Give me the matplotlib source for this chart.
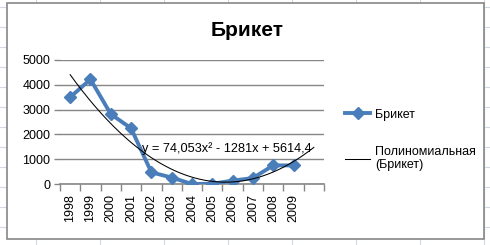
import matplotlib.pyplot as plt
import numpy as np
from matplotlib.lines import Line2D
from matplotlib.patches import Rectangle

# data
years = ['1998', '1999', '2000', '2001', '2002', '2003',
         '2004', '2005', '2006', '2007', '2008', '2009']
values = [3500, 4220, 2820, 2245, 470, 260, 0, 10, 135, 240, 750, 750]
# polynomial trendline y = a*x^2 + b*x + c (as shown on the chart)
trend_coef = [74.053, -1281, 5614.4]
trend_label = 'y = 74,053x² - 1281x + 5614,4'

plt.rcParams['font.family'] = ['Liberation Sans', 'DejaVu Sans']

W, H = 490, 245
fig = plt.figure(figsize=(W / 100, H / 100), dpi=100)
fig.patch.set_facecolor('white')

# spreadsheet grid behind the chart
grid_col = '#d0d7e5'
for gx in range(36, W, 64):
    fig.add_artist(Line2D([gx / W, gx / W], [0, 1], color=grid_col, lw=0.8, zorder=-3))
for gy in range(7, H, 20):
    fig.add_artist(Line2D([0, 1], [1 - gy / H, 1 - gy / H], color=grid_col, lw=0.8, zorder=-3))

# chart frame
x0, y0, x1, y1 = 6.5, 3.5, 484, 239
fig.add_artist(Rectangle((x0 / W, 1 - y1 / H), (x1 - x0) / W, (y1 - y0) / H,
                         transform=fig.transFigure, facecolor='white',
                         edgecolor='#868686', lw=1.2, zorder=-2))

left, right, top, bottom = 60, 324, 60, 184
ax = fig.add_axes([left / W, 1 - bottom / H, (right - left) / W, (bottom - top) / H])
ax.set_facecolor('none')

x = np.arange(1, len(years) + 1)
ax.plot(x, values, color='#4a7ebb', lw=2.8, marker='D', ms=6.5,
        label='Брикет', zorder=3)

xt = np.linspace(1, len(years) + 1, 200)
ax.plot(xt, np.polyval(trend_coef, xt), color='black', lw=0.75,
        label='Полиномиальная\n(Брикет)', zorder=4)

ax.set_xlim(0.5, len(years) + 1.5)
ax.set_ylim(0, 5000)
ax.set_yticks(range(0, 5001, 1000))
ax.yaxis.grid(True, color='#868686', lw=1.0)
ax.set_axisbelow(True)

ax.set_xticks(x)
ax.set_xticklabels(years, rotation=90, fontsize=9)
ax.set_xticks(np.arange(0.5, len(years) + 2, 1), minor=True)
ax.tick_params(axis='x', which='major', length=0, pad=7)
ax.tick_params(axis='x', which='minor', length=5, color='#868686', width=1)
ax.tick_params(axis='y', length=4, color='#868686', width=1, labelsize=9, pad=3)

for s in ['top', 'right', 'left']:
    ax.spines[s].set_visible(False)
ax.spines['bottom'].set_color('#868686')
ax.spines['bottom'].set_linewidth(1.2)

ax.text(4.54, 1411, trend_label, ha='left', va='center', fontsize=9.2)

fig.text(247 / W, 1 - 30 / H, 'Брикет', ha='center', va='center',
         fontsize=15, fontweight='bold')

ax.legend(loc='center left', bbox_to_anchor=(345 / W, 1 - 140 / H),
          bbox_transform=fig.transFigure, frameon=False, fontsize=9,
          handlelength=2.0, handletextpad=0.4, labelspacing=2.0,
          borderaxespad=0, borderpad=0)

fig.savefig('out.png', dpi=100)
